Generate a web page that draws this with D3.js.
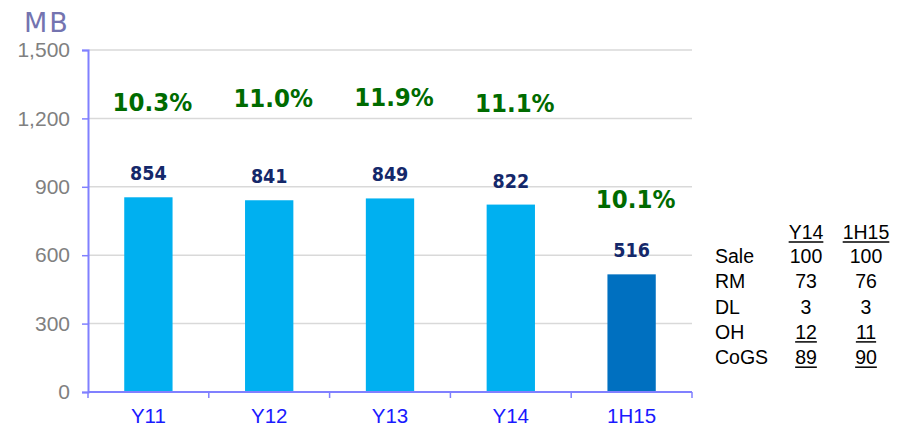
<!DOCTYPE html>
<html>
<head>
<meta charset="utf-8">
<script src="https://cdn.jsdelivr.net/npm/d3@7"></script>
<style>
  html, body { margin: 0; padding: 0; background: #fff; }
  svg { display: block; }
</style>
</head>
<body>
<div id="chart"></div>
<script>
// chart data
const periods = ['Y11', 'Y12', 'Y13', 'Y14', '1H15']
const costMB = [854, 841, 849, 822, 516]
const marginPct = ['10.3%', '11.0%', '11.9%', '11.1%', '10.1%']
// level (in MB) where each margin label sits on the chart
const marginLabelAt = [1276, 1294, 1298, 1272, 851]
const yTicks = [0, 300, 600, 900, 1200, 1500]

// cost breakdown table
const tableHead = ['', 'Y14', '1H15']
const tableRows = ['Sale', 'RM', 'DL', 'OH', 'CoGS']
const tableY14 = ['100', '73', '3', '12', '89']
const table1H15 = ['100', '76', '3', '11', '90']
const underlinedRows = ['OH', 'CoGS']

const width = 897
const height = 426
const margin = { top: 50, right: 205, bottom: 34, left: 88 }

const svg = d3.select('#chart')
  .append('svg')
  .attr('width', width)
  .attr('height', height)

const x = d3.scaleBand()
  .domain(periods)
  .range([margin.left, width - margin.right])

const y = d3.scaleLinear()
  .domain([0, 1500])
  .range([height - margin.bottom, margin.top])

const axisColor = '#8080ff'

// gridlines
svg.append('g')
  .selectAll('line')
  .data(yTicks.filter(t => t > 0))
  .enter()
  .append('line')
  .attr('x1', margin.left)
  .attr('x2', width - margin.right)
  .attr('y1', d => y(d))
  .attr('y2', d => y(d))
  .style('stroke', '#d9d9d9')
  .style('stroke-width', 1.5)

// bars
const barW = x.bandwidth() * 0.4
svg.append('g')
  .selectAll('rect')
  .data(periods)
  .enter()
  .append('rect')
  .attr('x', d => x(d) + (x.bandwidth() - barW) / 2)
  .attr('y', (d, i) => y(costMB[i]))
  .attr('width', barW)
  .attr('height', (d, i) => y(0) - y(costMB[i]))
  .style('fill', (d, i) => i == periods.length - 1 ? '#0070c0' : '#00b0f0')

// y axis
const yAxis = svg.append('g')
  .attr('transform', `translate(${margin.left},0)`)
  .call(d3.axisLeft(y).tickValues(yTicks).tickSize(6).tickPadding(12).tickFormat(d3.format(',')))
yAxis.select('.domain').style('stroke', axisColor).style('stroke-width', 2)
yAxis.selectAll('.tick line').style('stroke', axisColor).style('stroke-width', 1.5)
yAxis.selectAll('.tick text')
  .style('font-family', 'Liberation Sans, Arial, sans-serif')
  .style('font-size', '21px')
  .style('fill', '#808080')

// x axis, ticks between categories
const xAxisG = svg.append('g')
  .attr('transform', `translate(0,${y(0)})`)
xAxisG.append('line')
  .attr('x1', margin.left)
  .attr('x2', width - margin.right)
  .style('stroke', axisColor)
  .style('stroke-width', 2)
xAxisG.selectAll('.sep')
  .data(periods.concat(['end']))
  .enter()
  .append('line')
  .attr('class', 'sep')
  .attr('x1', (d, i) => margin.left + i * x.step())
  .attr('x2', (d, i) => margin.left + i * x.step())
  .attr('y1', 0)
  .attr('y2', 6)
  .style('stroke', axisColor)
  .style('stroke-width', 1.5)
xAxisG.selectAll('text')
  .data(periods)
  .enter()
  .append('text')
  .attr('x', d => x(d) + x.bandwidth() / 2)
  .attr('y', 31)
  .attr('text-anchor', 'middle')
  .style('font-family', 'Liberation Sans, Arial, sans-serif')
  .style('font-size', '20.5px')
  .style('fill', '#1a1aff')
  .text(d => d)

// unit title
svg.append('text')
  .attr('x', 24)
  .attr('y', 32)
  .style('font-family', 'DejaVu Sans, Verdana, sans-serif')
  .style('font-size', '27px')
  .style('letter-spacing', '2px')
  .style('fill', '#7474b0')
  .text('MB')

// value labels
svg.append('g')
  .selectAll('text')
  .data(periods)
  .enter()
  .append('text')
  .attr('x', d => x(d) + x.bandwidth() / 2)
  .attr('y', (d, i) => y(costMB[i]) - 17)
  .attr('text-anchor', 'middle')
  .style('font-family', 'DejaVu Sans Condensed, DejaVu Sans, sans-serif')
  .style('font-stretch', 'condensed')
  .style('font-weight', 'bold')
  .style('font-size', '19.5px')
  .style('fill', '#14286a')
  .text((d, i) => costMB[i])

// margin labels
svg.append('g')
  .selectAll('text')
  .data(periods)
  .enter()
  .append('text')
  .attr('x', d => x(d) + x.bandwidth() / 2 + 4)
  .attr('y', (d, i) => y(marginLabelAt[i]) + 10)
  .attr('text-anchor', 'middle')
  .style('font-family', 'DejaVu Sans Condensed, DejaVu Sans, sans-serif')
  .style('font-stretch', 'condensed')
  .style('font-weight', 'bold')
  .style('font-size', '25.5px')
  .style('fill', '#006b00')
  .text((d, i) => marginPct[i])

// table
const tbl = svg.append('g')
  .style('font-family', 'Liberation Sans, Arial, sans-serif')
  .style('font-size', '19.5px')
  .style('fill', '#000')
const colX = [715, 806, 866]
const headY = 239
const rowY0 = 263
const rowH = 25.3

const cell = (txt, cx, cy, anchor, underline) => {
  const t = tbl.append('text')
    .attr('x', cx)
    .attr('y', cy)
    .attr('text-anchor', anchor)
    .text(txt)
  if (underline) {
    const w = t.node().getComputedTextLength()
    const x0 = anchor == 'middle' ? cx - w / 2 : cx
    tbl.append('line')
      .attr('x1', x0)
      .attr('x2', x0 + w)
      .attr('y1', cy + 3)
      .attr('y2', cy + 3)
      .style('stroke', '#000')
      .style('stroke-width', 1.5)
  }
}

tableHead.forEach((h, j) => {
  if (h) cell(h, colX[j], headY, 'middle', true)
})
tableRows.forEach((r, i) => {
  const cy = rowY0 + i * rowH
  const ul = underlinedRows.includes(r)
  cell(r, colX[0], cy, 'start', false)
  cell(tableY14[i], colX[1], cy, 'middle', ul)
  cell(table1H15[i], colX[2], cy, 'middle', ul)
})
</script>
</body>
</html>
